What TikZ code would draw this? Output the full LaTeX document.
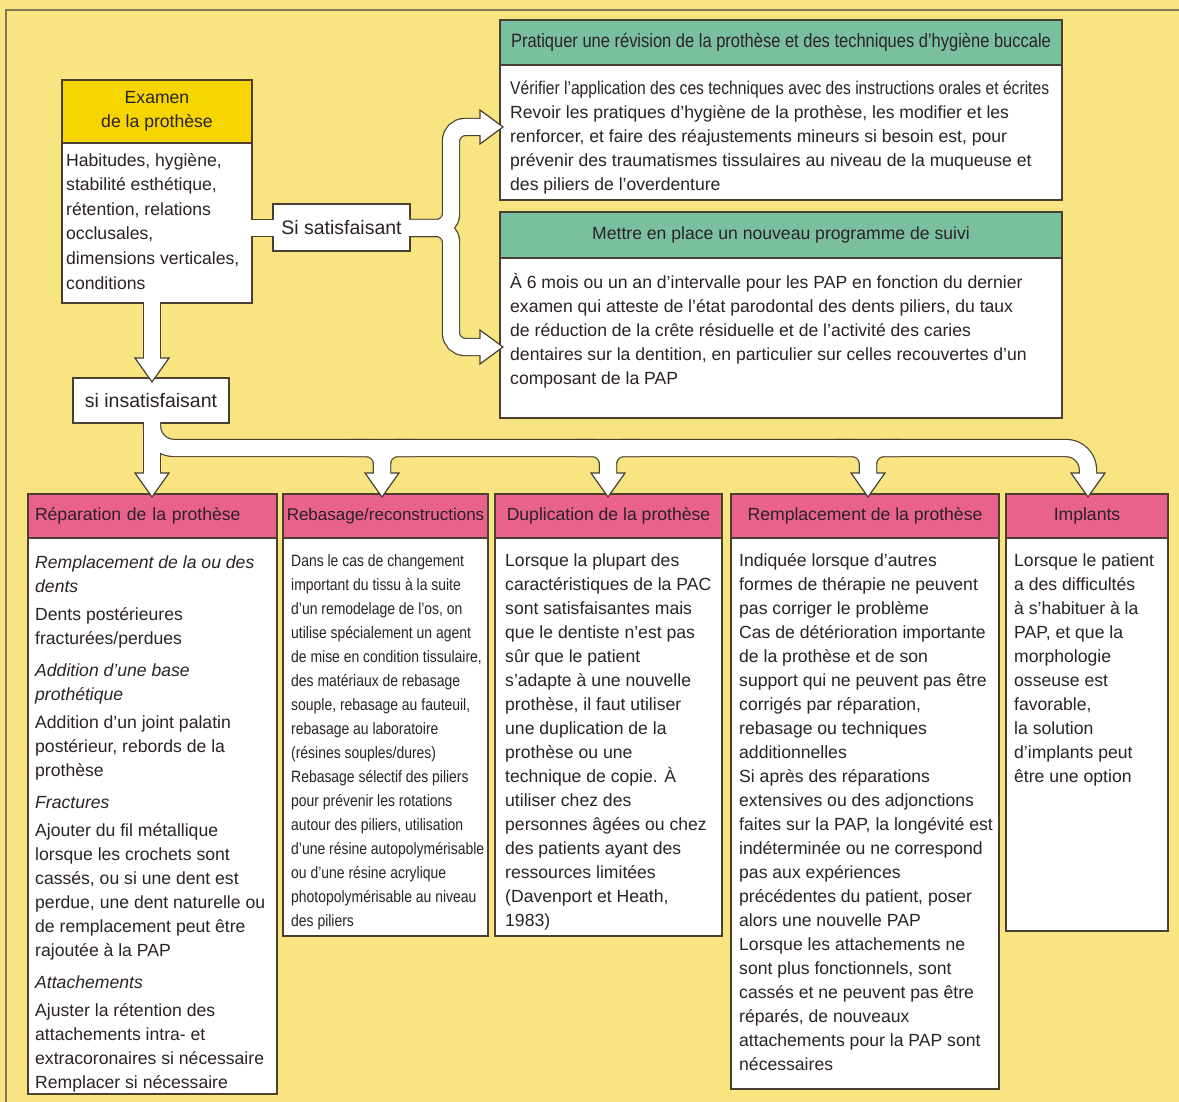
\documentclass[tikz,border=0pt]{standalone}
\usepackage{fontspec}
\setmainfont{Liberation Sans}
\newfontfamily\condfont[FakeStretch=0.85]{Liberation Sans}
\definecolor{bgyellow}{RGB}{248,228,128}
\definecolor{hdyellow}{RGB}{247,213,0}
\definecolor{hdgreen}{RGB}{122,192,160}
\definecolor{hdpink}{RGB}{233,98,140}
\definecolor{boxline}{RGB}{74,64,48}
\definecolor{txt}{RGB}{42,34,40}
\definecolor{framec}{RGB}{130,120,90}
\begin{document}
\begin{tikzpicture}[x=1pt,y=-1pt,
  hdr/.style={draw=boxline, line width=1.2pt, inner sep=0pt, outer sep=0pt, anchor=north west, text=txt, font=\fontsize{17.6}{24}\selectfont},
  bodybox/.style={draw=boxline, line width=1.2pt, fill=white, inner sep=0pt, outer sep=0pt, anchor=north west},
  btext/.style={anchor=north west, inner sep=0pt, align=left, text=txt, font=\fontsize{17.6}{24}\selectfont},
  lbl/.style={draw=boxline, line width=1.2pt, fill=white, inner sep=0pt, outer sep=0pt, anchor=north west, text=txt, font=\fontsize{19.5}{24}\selectfont},
  bandk/.style={line width=18.4pt, draw=boxline},
  bandw/.style={line width=16pt, draw=white},
  ahead/.style={fill=white, draw=boxline, line width=1.2pt, line join=miter}
]
\useasboundingbox (0,0) rectangle (1179,1102);
\fill[bgyellow] (0,0) rectangle (1179,1102);
\draw[framec, line width=1.2pt] (6,1102) -- (6,10) -- (1179,10);

% ---------- Examen box
\node[hdr, fill=hdyellow, minimum width=190pt, minimum height=63pt, align=center] (examH) at (62,80) {Examen\\de la prothèse};
\node[bodybox, minimum width=190pt, minimum height=160pt] (examB) at (62,143) {};
\node[btext, font=\fontsize{17.6}{24.6}\selectfont] (examT) at (66,149) {\rule{0pt}{17pt}Habitudes, hygiène,\\stabilité esthétique,\\rétention, relations\\occlusales,\\dimensions verticales,\\conditions};

% ---------- labels
\node[lbl, minimum width=137pt, minimum height=47pt] (satL) at (273,204) {Si satisfaisant};
\node[lbl, minimum width=156pt, minimum height=45pt] (insL) at (73,378) {si insatisfaisant};

% ---------- top green boxes
\node[hdr, fill=hdgreen, minimum width=562pt, minimum height=45pt, font=\condfont\fontsize{19.4}{24}\selectfont] (revH) at (500,20) {Pratiquer une révision de la prothèse et des techniques d’hygiène buccale};
\node[bodybox, minimum width=562pt, minimum height=135pt] (revB) at (500,65) {};
\node[btext] (revT) at (510,77) {\rule{0pt}{17pt}{\condfont\fontsize{18.4}{24}\selectfont Vérifier l’application des ces techniques avec des instructions orales et écrites}\\Revoir les pratiques d’hygiène de la prothèse, les modifier et les\\renforcer, et faire des réajustements mineurs si besoin est, pour\\prévenir des traumatismes tissulaires au niveau de la muqueuse et\\des piliers de l’overdenture};

\node[hdr, fill=hdgreen, minimum width=562pt, minimum height=46pt] (suiH) at (500,212) {Mettre en place un nouveau programme de suivi};
\node[bodybox, minimum width=562pt, minimum height=160pt] (suiB) at (500,258) {};
\node[btext] (suiT) at (510,271) {\rule{0pt}{17pt}À 6 mois ou un an d’intervalle pour les PAP en fonction du dernier\\examen qui atteste de l’état parodontal des dents piliers, du taux\\de réduction de la crête résiduelle et de l’activité des caries\\dentaires sur la dentition, en particulier sur celles recouvertes d’un\\composant de la PAP};

% ---------- bottom boxes
\node[hdr, fill=hdpink, minimum height=44pt, text width=235pt, inner xsep=7pt, align=left] (repH) at (28,494) {Réparation de la prothèse};
\node[bodybox, minimum width=249pt, minimum height=556pt] (repB) at (28,538) {};
\node[btext] (repT) at (35,551) {\rule{0pt}{17pt}\textit{Remplacement de la ou des}\\\textit{dents}\\[4pt]Dents postérieures\\fracturées/perdues\\[8pt]\textit{Addition d’une base}\\\textit{prothétique}\\[4pt]Addition d’un joint palatin\\postérieur, rebords de la\\prothèse\\[8pt]\textit{Fractures}\\[4pt]Ajouter du fil métallique\\lorsque les crochets sont\\cassés, ou si une dent est\\perdue, une dent naturelle ou\\de remplacement peut être\\rajoutée à la PAP\\[8pt]\textit{Attachements}\\[4pt]Ajuster la rétention des\\attachements intra- et\\extracoronaires si nécessaire\\Remplacer si nécessaire};

\node[hdr, fill=hdpink, minimum width=205pt, minimum height=44pt, font=\fontsize{17}{24}\selectfont] (rebH) at (283,494) {Rebasage/reconstructions};
\node[bodybox, minimum width=205pt, minimum height=398pt] (rebB) at (283,538) {};
\node[btext, font=\condfont\fontsize{16.4}{24}\selectfont] (rebT) at (291,549) {\rule{0pt}{17pt}Dans le cas de changement\\important du tissu à la suite\\d’un remodelage de l’os, on\\utilise spécialement un agent\\de mise en condition tissulaire,\\des matériaux de rebasage\\souple, rebasage au fauteuil,\\rebasage au laboratoire\\(résines souples/dures)\\Rebasage sélectif des piliers\\pour prévenir les rotations\\autour des piliers, utilisation\\d’une résine autopolymérisable\\ou d’une résine acrylique\\photopolymérisable au niveau\\des piliers};

\node[hdr, fill=hdpink, minimum width=227pt, minimum height=44pt] (dupH) at (495,494) {Duplication de la prothèse};
\node[bodybox, minimum width=227pt, minimum height=398pt] (dupB) at (495,538) {};
\node[btext] (dupT) at (505,549) {\rule{0pt}{17pt}Lorsque la plupart des\\caractéristiques de la PAC\\sont satisfaisantes mais\\que le dentiste n’est pas\\sûr que le patient\\s’adapte à une nouvelle\\prothèse, il faut utiliser\\une duplication de la\\prothèse ou une\\technique de copie. À\\utiliser chez des\\personnes âgées ou chez\\des patients ayant des\\ressources limitées\\(Davenport et Heath,\\1983)};

\node[hdr, fill=hdpink, minimum width=268pt, minimum height=44pt] (remH) at (731,494) {Remplacement de la prothèse};
\node[bodybox, minimum width=268pt, minimum height=551pt] (remB) at (731,538) {};
\node[btext] (remT) at (739,549) {\rule{0pt}{17pt}Indiquée lorsque d’autres\\formes de thérapie ne peuvent\\pas corriger le problème\\Cas de détérioration importante\\de la prothèse et de son\\support qui ne peuvent pas être\\corrigés par réparation,\\rebasage ou techniques\\additionnelles\\Si après des réparations\\extensives ou des adjonctions\\faites sur la PAP, la longévité est\\indéterminée ou ne correspond\\pas aux expériences\\précédentes du patient, poser\\alors une nouvelle PAP\\Lorsque les attachements ne\\sont plus fonctionnels, sont\\cassés et ne peuvent pas être\\réparés, de nouveaux\\attachements pour la PAP sont\\nécessaires};

\node[hdr, fill=hdpink, minimum width=162pt, minimum height=44pt] (impH) at (1006,494) {Implants};
\node[bodybox, minimum width=162pt, minimum height=393pt] (impB) at (1006,538) {};
\node[btext] (impT) at (1014,549) {\rule{0pt}{17pt}Lorsque le patient\\a des difficultés\\à s’habituer à la\\PAP, et que la\\morphologie\\osseuse est\\favorable,\\la solution\\d’implants peut\\être une option};

% ---------- band connectors: outlines
\draw[bandk] (252,228) -- (273,228);
\draw[bandk, rounded corners=14pt] (410,228) -- (451,228) -- (451,127) -- (480,127);
\draw[bandk, rounded corners=14pt] (410,228) -- (451,228) -- (451,347) -- (480,347);
\draw[bandk] (152,303) -- (152,358);
\draw[bandk] (152,423) -- (152,473);
\draw[bandk, rounded corners=22pt] (152,423) -- (152,448) -- (1088,448) -- (1088,473);
\foreach \xa in {382,608,868}{
  \draw[bandk, rounded corners=16pt] (\xa-32,448) -- (\xa,448) -- (\xa,473);
  \draw[bandk, rounded corners=16pt] (\xa+32,448) -- (\xa,448) -- (\xa,473);
}
% ---------- arrow heads
\draw[ahead] (480,110) -- (503,127) -- (480,144) -- cycle;
\draw[ahead] (480,330) -- (503,347) -- (480,364) -- cycle;
\draw[ahead] (135,358) -- (152,382) -- (169,358) -- cycle;
\foreach \xa in {152,382,608,868,1088}{
  \draw[ahead] (\xa-17,473) -- (\xa,497) -- (\xa+17,473) -- cycle;
}
% ---------- band connectors: fill
\draw[bandw] (250,228) -- (275,228);
\draw[bandw, rounded corners=14pt] (408,228) -- (451,228) -- (451,127) -- (481,127);
\draw[bandw, rounded corners=14pt] (408,228) -- (451,228) -- (451,347) -- (481,347);
\draw[bandw] (152,301) -- (152,359);
\draw[bandw] (152,421) -- (152,474);
\draw[bandw, rounded corners=22pt] (152,421) -- (152,448) -- (1088,448) -- (1088,474);
\foreach \xa in {382,608,868}{
  \draw[bandw, rounded corners=16pt] (\xa-32,448) -- (\xa,448) -- (\xa,474);
  \draw[bandw, rounded corners=16pt] (\xa+32,448) -- (\xa,448) -- (\xa,474);
}
\end{tikzpicture}
\end{document}
